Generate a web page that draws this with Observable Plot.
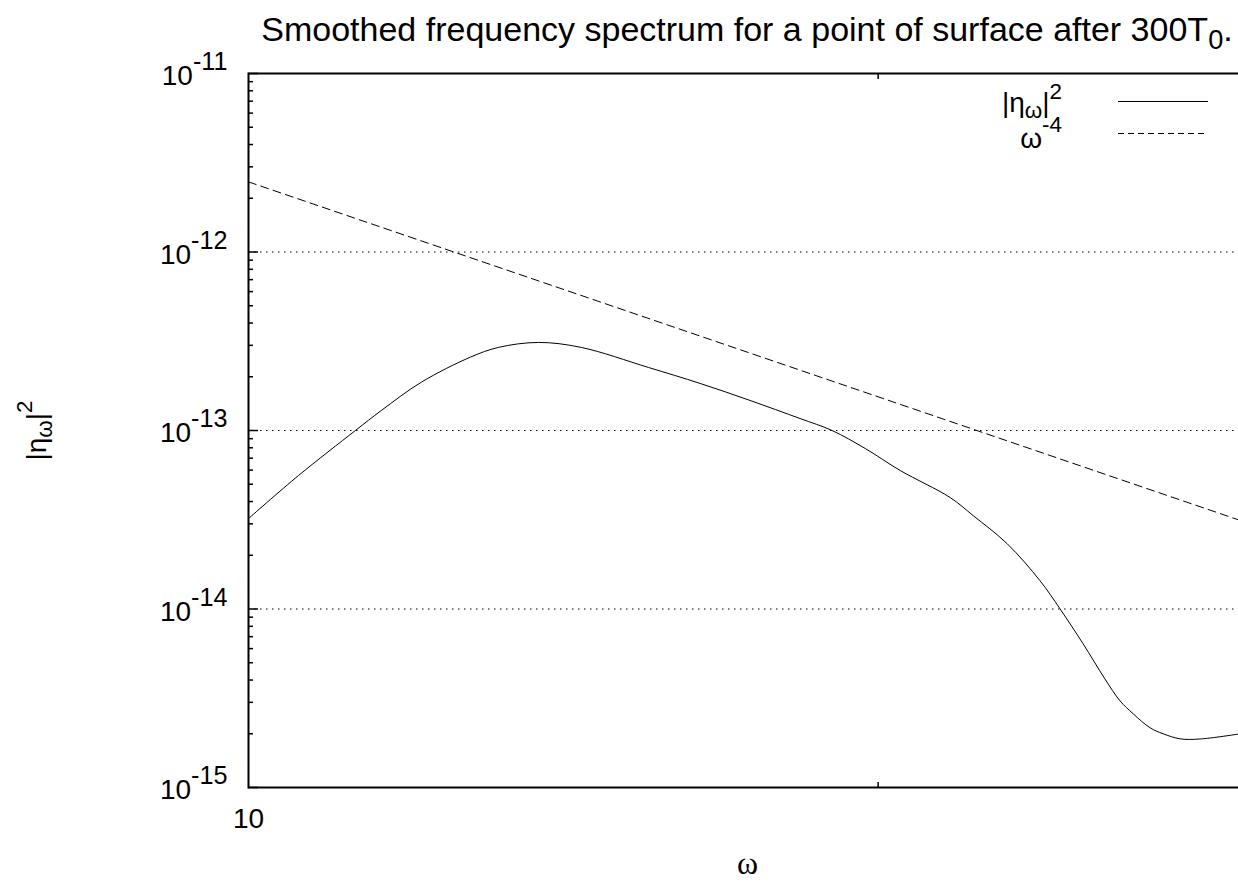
<!DOCTYPE html>
<html><head><meta charset="utf-8">
<script src="https://cdn.jsdelivr.net/npm/d3@7"></script>
<script src="https://cdn.jsdelivr.net/npm/@observablehq/plot@0.6"></script>
<style>
body{margin:0;background:#fff;}
#wrap{position:relative;width:1238px;height:883px;overflow:hidden;background:#fff;font-family:"Liberation Sans",Arial,sans-serif;color:#000;}
#chart{position:absolute;left:0;top:0;}
#title{position:absolute;top:0;left:248px;width:998px;height:50px;font-size:34px;line-height:58px;text-align:center;white-space:nowrap;overflow:visible;z-index:2;}
#title sub{font-size:0.8em;vertical-align:-0.3em;line-height:0;}
.leg{position:absolute;font-size:28px;line-height:28px;white-space:nowrap;text-align:right;right:176px;z-index:2;}
.leg sub,.leg sup{font-size:0.8em;line-height:0;}
.leg sub{vertical-align:-0.25em;}
.leg sup{vertical-align:0.6em;}
.sample{position:absolute;left:1118px;width:90px;height:1px;z-index:2;}
</style></head>
<body>
<div id="wrap">
  <div id="chart"></div>
  <div id="title">Smoothed frequency spectrum for a point of surface after 300T<sub>0</sub>.</div>
  <div id="legend"></div>
</div>
<script>
// ---- data ----
const omega = [10, 10.565, 11.249, 11.575, 12.097, 12.768, 13.166, 13.758, 14.424, 15.530, 16.441, 17.370, 18.352, 19.010, 19.72, 20.491, 21.650, 22.204, 23.05, 23.90, 24.43, 25.06, 25.67, 26.10, 26.48, 26.98, 27.37, 27.89, 28.51, 29.72];
const spectrum = [3.21e-14, 5.59e-14, 1.0e-13, 1.295e-13, 1.866e-13, 2.577e-13, 2.92e-13, 3.114e-13, 2.92e-13, 2.256e-13, 1.835e-13, 1.473e-13, 1.167e-13, 1.0e-13, 7.92e-14, 5.97e-14, 4.21e-14, 3.337e-14, 2.323e-14, 1.441e-14, 1.004e-14, 6.39e-15, 4.06e-15, 3.06e-15, 2.59e-15, 2.16e-15, 2.00e-15, 1.873e-15, 1.87e-15, 1.99e-15];
const refOmega = [10, 30];
const refPower = [2.47e-12, 3.05e-14];
const seriesNames = ["|η_ω|^2", "ω^-4"];

const xDomain = [10, 30];
const yDomain = [1e-15, 1e-11];
const xMajorTicks = [10];
const xTickLabels = ["10"];
const xMinorTicks = [20];
const yMajorTicks = [1e-15, 1e-14, 1e-13, 1e-12, 1e-11];
const yTickExponents = ["-15", "-14", "-13", "-12", "-11"];
const yGridTicks = [1e-14, 1e-13, 1e-12];
const yMinorDecades = [1e-15, 1e-14, 1e-13, 1e-12];
const yMinorMultipliers = [2, 3, 4, 5, 6, 7, 8, 9];
const xLabel = "ω";
const yLabel = "|ηω|2";

// ---- build ----
const spec = omega.map((x, i) => ({x, y: spectrum[i]}));
const ref = refOmega.map((x, i) => ({x, y: refPower[i]}));
const yMinor = yMinorDecades.flatMap(d => yMinorMultipliers.map(m => m * d));

const chart = Plot.plot({
  width: 1246, height: 883,
  marginLeft: 248, marginRight: 0, marginTop: 73, marginBottom: 96,
  style: {fontFamily: "'Liberation Sans', Arial, sans-serif", fontSize: "28px", background: "#fff", color: "#000", maxWidth: "none"},
  x: {type: "log", domain: xDomain},
  y: {type: "log", domain: yDomain},
  marks: [
    Plot.ruleY(yGridTicks, {stroke: "#000", strokeWidth: 1, strokeDasharray: "1.5,4.5"}),
    Plot.line(ref, {x: "x", y: "y", stroke: "#000", strokeWidth: 1, strokeDasharray: "8,5"}),
    Plot.line(spec, {x: "x", y: "y", stroke: "#000", strokeWidth: 1, curve: "catmull-rom"}),
    Plot.axisY(yMinor, {anchor: "left", tickSize: -5, fill: "none", label: null, strokeWidth: 1.5}),
    Plot.axisY(yMajorTicks, {anchor: "left", tickSize: -10, fill: "none", label: null, strokeWidth: 1.5}),
    Plot.axisY(yMajorTicks, {anchor: "left", tickSize: 0, tickPadding: 21, dy: 3,
      tickFormat: d => "10^" + yTickExponents[yMajorTicks.indexOf(d)],
      label: yLabel, labelAnchor: "center", labelOffset: 222}),
    Plot.axisX(xMinorTicks, {anchor: "bottom", tickSize: -5, fill: "none", label: null, strokeWidth: 1.5}),
    Plot.axisX(xMinorTicks, {anchor: "top", tickSize: -5, fill: "none", label: null, strokeWidth: 1.5}),
    Plot.axisX(xMajorTicks, {anchor: "bottom", tickSize: 0, tickPadding: 21,
      tickFormat: d => xTickLabels[xMajorTicks.indexOf(d)],
      label: xLabel, labelAnchor: "center", labelOffset: 86}),
    Plot.frame({stroke: "#000", strokeWidth: 2})
  ]
});
document.getElementById("chart").appendChild(chart);

const svg = d3.select(chart);
svg.selectAll('g[aria-label="y-axis tick label"] text').each(function () {
  const t = d3.select(this);
  const parts = t.text().split("^");
  t.text(parts[0]);
  t.append("tspan").attr("dy", "-15px").attr("font-size", "0.9em").text(parts[1]);
});
svg.selectAll('g[aria-label="y-axis label"] text').each(function () {
  const t = d3.select(this);
  t.text("");
  t.append("tspan").text("|η");
  t.append("tspan").attr("dy", "6px").attr("font-size", "0.8em").text("ω");
  t.append("tspan").attr("dy", "-6px").text("|");
  t.append("tspan").attr("dy", "-14px").attr("font-size", "0.8em").text("2");
});
svg.selectAll('g[aria-label="x-axis label"] text')
  .text(xLabel)
  .attr("font-size", "32px")
  .attr("font-family", "'Liberation Serif', 'DejaVu Serif', serif");

// ---- legend ----
const legend = document.getElementById("legend");
const row1 = document.createElement("div");
row1.className = "leg"; row1.style.top = "89px";
row1.innerHTML = "|η<sub>ω</sub>|<sup>2</sup>";
row1.title = seriesNames[0];
const s1 = document.createElement("div");
s1.className = "sample"; s1.style.top = "101px"; s1.style.background = "#000";
const row2 = document.createElement("div");
row2.className = "leg"; row2.style.top = "125px";
row2.innerHTML = "ω<sup style=\"vertical-align:0.72em\">-4</sup>";
row2.title = seriesNames[1];
const s2 = document.createElement("div");
s2.className = "sample"; s2.style.top = "133px";
s2.style.background = "repeating-linear-gradient(to right,#000 0 6px,transparent 6px 10px)";
legend.append(row1, s1, row2, s2);
</script>
</body></html>
